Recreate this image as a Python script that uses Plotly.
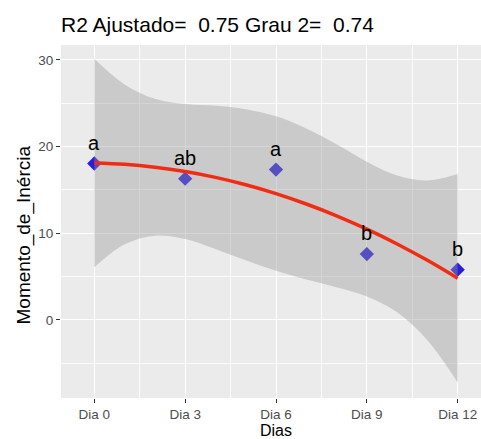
import plotly.graph_objects as go

# ---- data ----
dias = [0, 3, 6, 9, 12]
dias_labels = ["Dia 0", "Dia 3", "Dia 6", "Dia 9", "Dia 12"]
momento = [18.05, 16.3, 17.35, 7.6, 5.8]
letras = ["a", "ab", "a", "b", "b"]

fit_x = [0, 1, 2, 3, 4, 5, 6, 7, 8, 9, 10, 11, 12]
fit_y = [18.10, 17.95, 17.62, 17.12, 16.45, 15.60, 14.58, 13.38, 12.02, 10.48, 8.77, 6.88, 4.82]
band_hi = [30.13, 27.17, 25.51, 24.90, 24.70, 24.32, 23.49, 22.10, 20.27, 18.26, 16.66, 16.10, 16.85]
band_lo = [6.07, 8.73, 9.73, 9.34, 8.20, 6.88, 5.67, 4.66, 3.77, 2.70, 0.88, -2.34, -7.21]

y_ticks = [0, 10, 20, 30]
titulo = "R2 Ajustado=  0.75 Grau 2=  0.74"

FONT = "Liberation Sans, Arial, sans-serif"

W, H = 481, 439
ML, MR, MT, MB = 61, 0, 45, 41
PW, PH = W - ML - MR, H - MT - MB


def px_to_paper_x(px):
    return (px - ML) / PW


def px_to_paper_y(py):
    return (H - MB - py) / PH


fig = go.Figure()

# points (drawn first, under the band as in ggplot)
fig.add_trace(go.Scatter(
    x=dias, y=momento, mode="markers",
    marker=dict(symbol="diamond", size=11, color="rgb(40,30,220)", line=dict(width=0)),
    showlegend=False, hoverinfo="skip"))

# confidence band
fig.add_trace(go.Scatter(
    x=fit_x, y=band_hi, mode="lines", line=dict(width=0, shape="spline"),
    showlegend=False, hoverinfo="skip"))
fig.add_trace(go.Scatter(
    x=fit_x, y=band_lo, mode="lines", line=dict(width=0, shape="spline"),
    fill="tonexty", fillcolor="rgba(153,153,153,0.4)",
    showlegend=False, hoverinfo="skip"))

# fitted line
fig.add_trace(go.Scatter(
    x=fit_x, y=fit_y, mode="lines",
    line=dict(color="rgb(240,45,20)", width=3.5, shape="spline"),
    showlegend=False, hoverinfo="skip"))

annotations = []
for xv, yv, t in zip(dias, momento, letras):
    annotations.append(dict(
        x=xv, y=yv, xref="x", yref="y", text=t, showarrow=False,
        yanchor="bottom", xanchor="center", yshift=8,
        font=dict(family=FONT, size=20, color="black")))

# axis titles
annotations.append(dict(
    x=px_to_paper_x(276), y=px_to_paper_y(430.5), xref="paper", yref="paper",
    text="Dias", showarrow=False, xanchor="center", yanchor="middle",
    font=dict(family=FONT, size=16, color="black")))
annotations.append(dict(
    x=px_to_paper_x(23), y=px_to_paper_y(235.5), xref="paper", yref="paper",
    text="Momento_de_Inércia", showarrow=False, textangle=-90,
    xanchor="center", yanchor="middle",
    font=dict(family=FONT, size=19, color="black")))

fig.update_layout(
    width=W, height=H,
    margin=dict(l=ML, r=MR, t=MT, b=MB, autoexpand=False),
    paper_bgcolor="white", plot_bgcolor="#EBEBEB",
    title=dict(text=titulo, x=61 / W, xanchor="left", xref="container",
               y=1 - 25 / H, yanchor="middle", yref="container",
               font=dict(family=FONT, size=21, color="black")),
    annotations=annotations,
    showlegend=False,
)

fig.update_xaxes(
    range=[-1.10, 12.77], tickvals=dias, ticktext=dias_labels,
    showgrid=True, gridcolor="white", gridwidth=1.2, zeroline=False,
    ticks="outside", ticklen=4, tickcolor="#333333", tickwidth=1,
    tickfont=dict(family=FONT, size=13.5, color="#4D4D4D"),
    minor=dict(tickvals=[1.5, 4.5, 7.5, 10.5], showgrid=True,
               gridcolor="rgba(255,255,255,0.85)", gridwidth=0.6, ticks=""),
    showline=False, fixedrange=True, automargin=False)

fig.update_yaxes(
    range=[-9.0, 31.72], tickvals=y_ticks,
    showgrid=True, gridcolor="white", gridwidth=1.2, zeroline=False,
    ticks="outside", ticklen=4, tickcolor="#333333", tickwidth=1,
    tickfont=dict(family=FONT, size=13.5, color="#4D4D4D"),
    minor=dict(tickvals=[-5, 5, 15, 25], showgrid=True,
               gridcolor="rgba(255,255,255,0.85)", gridwidth=0.6, ticks=""),
    showline=False, fixedrange=True, automargin=False)

fig.write_html(
    "out.html",
    config={"displayModeBar": False},
    post_script="document.body.style.margin='0px';document.body.style.overflow='hidden';",
)
